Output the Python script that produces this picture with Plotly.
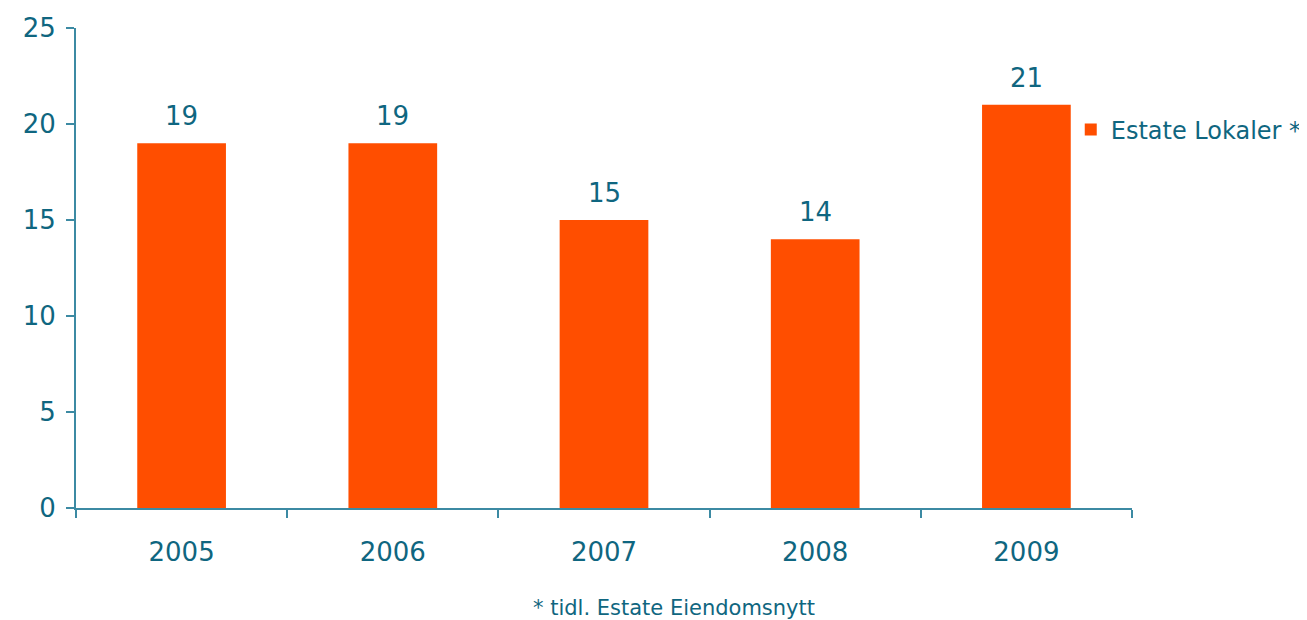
import plotly.graph_objects as go

years = ["2005", "2006", "2007", "2008", "2009"]
values = [19, 19, 15, 14, 21]
series_name = "Estate Lokaler *"
footnote = "* tidl. Estate Eiendomsnytt"
y_ticks = [0, 5, 10, 15, 20, 25]

TEXT = "#0F6680"
AXIS = "#3C8AA3"
BAR = "#FF4E00"
FONT = "DejaVu Sans, Verdana, sans-serif"

fig = go.Figure()
fig.add_trace(go.Bar(
    x=years, y=values, name=series_name,
    marker=dict(color=BAR, line=dict(width=0)),
    width=0.42,
))

# value labels placed on the category axis by category index
annotations = [dict(
    x=i, y=v, xref="x", yref="y", text=str(v), showarrow=False,
    xanchor="center", yanchor="bottom", yshift=10,
    font=dict(color=TEXT, size=26, family=FONT),
) for i, v in enumerate(values)]

annotations.append(dict(
    text=footnote, xref="paper", yref="paper",
    x=0.566, y=-0.2083, xanchor="center", yanchor="middle",
    showarrow=False, font=dict(color=TEXT, size=21, family=FONT),
))

fig.update_layout(
    width=1299, height=612,
    margin=dict(l=68, r=175, t=20, b=112, autoexpand=False),
    paper_bgcolor="white", plot_bgcolor="white",
    showlegend=True,
    legend=dict(x=0.942, y=0.7875, xanchor="left", yanchor="middle",
                font=dict(color=TEXT, size=24, family=FONT),
                itemsizing="constant", bgcolor="rgba(0,0,0,0)"),
    xaxis=dict(
        type="category", categoryorder="array", categoryarray=years,
        range=[-0.5, len(years) - 0.5],
        showline=True, linecolor=AXIS, linewidth=2,
        ticks="outside", tickson="boundaries", ticklen=8, tickcolor=AXIS, tickwidth=2,
        tickfont=dict(color=TEXT, size=26, family=FONT),
        ticklabelstandoff=20, tickangle=0,
        showgrid=False, zeroline=False,
    ),
    yaxis=dict(
        range=[0, 25], tickvals=y_ticks,
        showline=True, linecolor=AXIS, linewidth=2,
        ticks="outside", ticklen=8, tickcolor=AXIS, tickwidth=2,
        tickfont=dict(color=TEXT, size=26, family=FONT),
        ticklabelstandoff=5,
        showgrid=False, zeroline=False,
    ),
    annotations=annotations,
)

fig.write_html("out.html")
